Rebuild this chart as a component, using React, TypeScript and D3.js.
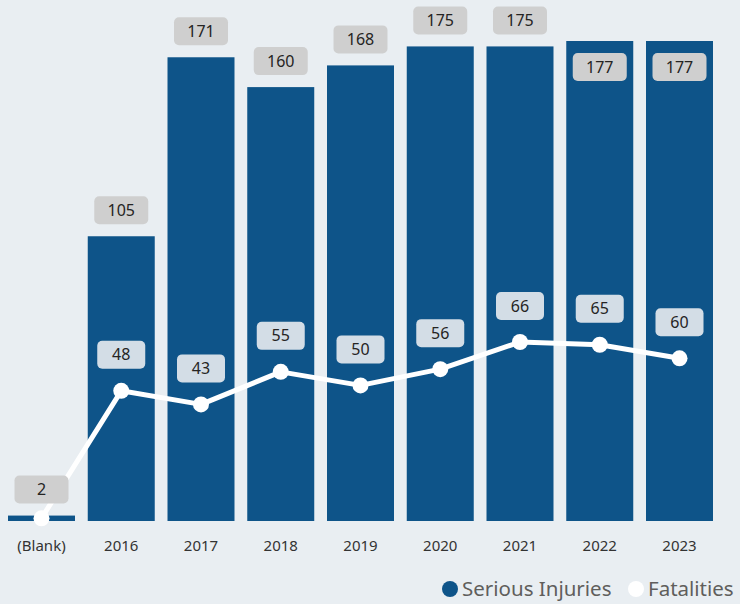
import React from "react";
import * as d3 from "d3";

const categories = ["(Blank)", "2016", "2017", "2018", "2019", "2020", "2021", "2022", "2023"];
const seriousInjuries = [2, 105, 171, 160, 168, 175, 175, 177, 177];
const fatalities = [1, 48, 43, 55, 50, 56, 66, 65, 60];
const seriesNames = ["Serious Injuries", "Fatalities"];

const W = 740;
const H = 604;
const BG = "#E9EEF2";
const BAR = "#0E5489";
const FONT = "'Noto Sans', 'Open Sans', sans-serif";

export default function App() {
  const x = d3
    .scaleBand<string>()
    .domain(categories)
    .range([8 - 0.08 * 79.75, 713 + 0.08 * 79.75])
    .paddingInner(0.16)
    .paddingOuter(0.08);
  const y = d3.scaleLinear().domain([0, 177]).range([521, 41]);
  const bw = x.bandwidth();
  const cx = (c: string) => (x(c) as number) + bw / 2;

  const line = d3
    .line<number>()
    .x((_, i) => cx(categories[i]))
    .y((d) => y(d));

  const barLabels = seriousInjuries.map((v, i) => {
    const top = y(v);
    const inside = top - 26 - 14 < 4;
    return { cx: cx(categories[i]), cy: inside ? top + 26 : top - 26, v };
  });
  const fatLabels = fatalities.map((v, i) => {
    const cy = y(v) - 36;
    const c = cx(categories[i]);
    const bl = barLabels[i];
    const overlap = Math.abs(bl.cy - cy) < 30;
    return { cx: c, cy, v, show: !overlap };
  });

  return (
    <div style={{ position: "fixed", left: 0, top: 0, width: W, height: H, background: BG }}>
      <svg width={W} height={H} style={{ display: "block" }} fontFamily={FONT}>
        <rect width={W} height={H} fill={BG} />
        {seriousInjuries.map((v, i) => (
          <rect key={i} x={x(categories[i])} y={y(v)} width={bw} height={y(0) - y(v)} fill={BAR} />
        ))}
        <path d={line(fatalities) || ""} fill="none" stroke="#FFFFFF" strokeWidth={5} strokeLinejoin="round" />
        {fatalities.map((v, i) => (
          <circle key={i} cx={cx(categories[i])} cy={y(v)} r={8} fill="#FFFFFF" />
        ))}
        {barLabels.map((l, i) => (
          <g key={i}>
            <rect x={l.cx - 27} y={l.cy - 14} width={54} height={28} rx={5} fill="#CFCFCF" />
            <text x={l.cx} y={l.cy} dy="0.35em" textAnchor="middle" fontSize={16} fill="#252423">
              {l.v}
            </text>
          </g>
        ))}
        {fatLabels.filter((l) => l.show).map((l, i) => (
          <g key={i}>
            <rect x={l.cx - 24} y={l.cy - 14} width={48} height={28} rx={5} fill="#D3DDE6" />
            <text x={l.cx} y={l.cy} dy="0.35em" textAnchor="middle" fontSize={16} fill="#252423">
              {l.v}
            </text>
          </g>
        ))}
        {categories.map((c) => (
          <text key={c} x={cx(c)} y={546} dy="0.35em" textAnchor="middle" fontSize={15} fill="#333333">
            {c}
          </text>
        ))}
        <circle cx={450} cy={589} r={8} fill={BAR} />
        <text x={462} y={589} dy="0.35em" fontSize={20.5} fill="#605E5C">
          {seriesNames[0]}
        </text>
        <circle cx={636} cy={589} r={8} fill="#FFFFFF" />
        <text x={648} y={589} dy="0.35em" fontSize={20.5} fill="#605E5C">
          {seriesNames[1]}
        </text>
      </svg>
    </div>
  );
}
